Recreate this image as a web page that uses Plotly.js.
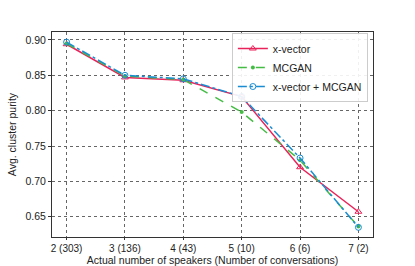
<!DOCTYPE html>
<html><head><meta charset="utf-8">
<script src="https://cdn.plot.ly/plotly-3.0.1.min.js"></script>
<style>html,body{margin:0;padding:0;background:#fff}#chart{width:415px;height:266px}</style>
</head><body><div id="chart"></div>
<script>
const speakers = [2, 3, 4, 5, 6, 7];
const tickLabels = ["2 (303)", "3 (136)", "4 (43)", "5 (10)", "6 (6)", "7 (2)"];
const xvector = [0.894, 0.847, 0.843, 0.820, 0.720, 0.657];
const mcgan = [0.895, 0.849, 0.844, 0.798, 0.730, 0.636];
const xvectorMcgan = [0.897, 0.850, 0.845, 0.820, 0.733, 0.635];

const red = "#e8235a", green = "#45bd45", blue = "#1a8dd2";
const traces = [
  {x: speakers, y: xvector, name: "x-vector", mode: "lines+markers", type: "scatter",
   line: {color: red, width: 1.5, dash: "solid"},
   marker: {symbol: "triangle-up-open", size: 6, color: red, line: {width: 1, color: red}}},
  {x: speakers, y: mcgan, name: "MCGAN", mode: "lines+markers", type: "scatter",
   line: {color: green, width: 1.5, dash: "dash"},
   marker: {symbol: "circle", size: 4, color: green}},
  {x: speakers, y: xvectorMcgan, name: "x-vector + MCGAN", mode: "lines+markers", type: "scatter",
   line: {color: blue, width: 1.5, dash: "dashdot"},
   marker: {symbol: "circle-open", size: 6, color: blue, line: {width: 1, color: blue}}}
];
const axisCommon = {
  showline: true, mirror: true, linecolor: "#333", linewidth: 1,
  ticks: "outside", ticklen: 3, tickcolor: "#333", tickwidth: 1,
  showgrid: true, gridcolor: "#666", griddash: "dot", gridwidth: 1,
  zeroline: false, tickfont: {size: 10.5, color: "#222"}
};
const layout = {
  width: 415, height: 266,
  margin: {l: 52, r: 42, t: 32, b: 29},
  paper_bgcolor: "#fff", plot_bgcolor: "#fff",
  font: {family: "Liberation Sans, Arial, sans-serif", size: 10.5, color: "#222"},
  showlegend: true,
  legend: {x: 0.984, y: 0.995, xanchor: "right", yanchor: "top",
    bordercolor: "#ccc", borderwidth: 1, bgcolor: "rgba(255,255,255,0.9)",
    font: {size: 10.5}, tracegroupgap: 0, itemwidth: 30},
  xaxis: Object.assign({}, axisCommon, {
    range: [1.75, 7.25], tickmode: "array", tickvals: speakers, ticktext: tickLabels,
    ticklen: 2, tickfont: {size: 10, color: "#222"},
    title: {text: "Actual number of speakers (Number of conversations)", font: {size: 10.5}, standoff: 2}
  }),
  yaxis: Object.assign({}, axisCommon, {
    range: [0.6213, 0.9113], tickmode: "array", tickvals: [0.65, 0.70, 0.75, 0.80, 0.85, 0.90],
    ticktext: ["0.65", "0.70", "0.75", "0.80", "0.85", "0.90"],
    title: {text: "Avg. cluster purity", font: {size: 10.5}, standoff: 6}
  })
};
Plotly.newPlot("chart", traces, layout, {displayModeBar: false, staticPlot: true});
</script></body></html>
